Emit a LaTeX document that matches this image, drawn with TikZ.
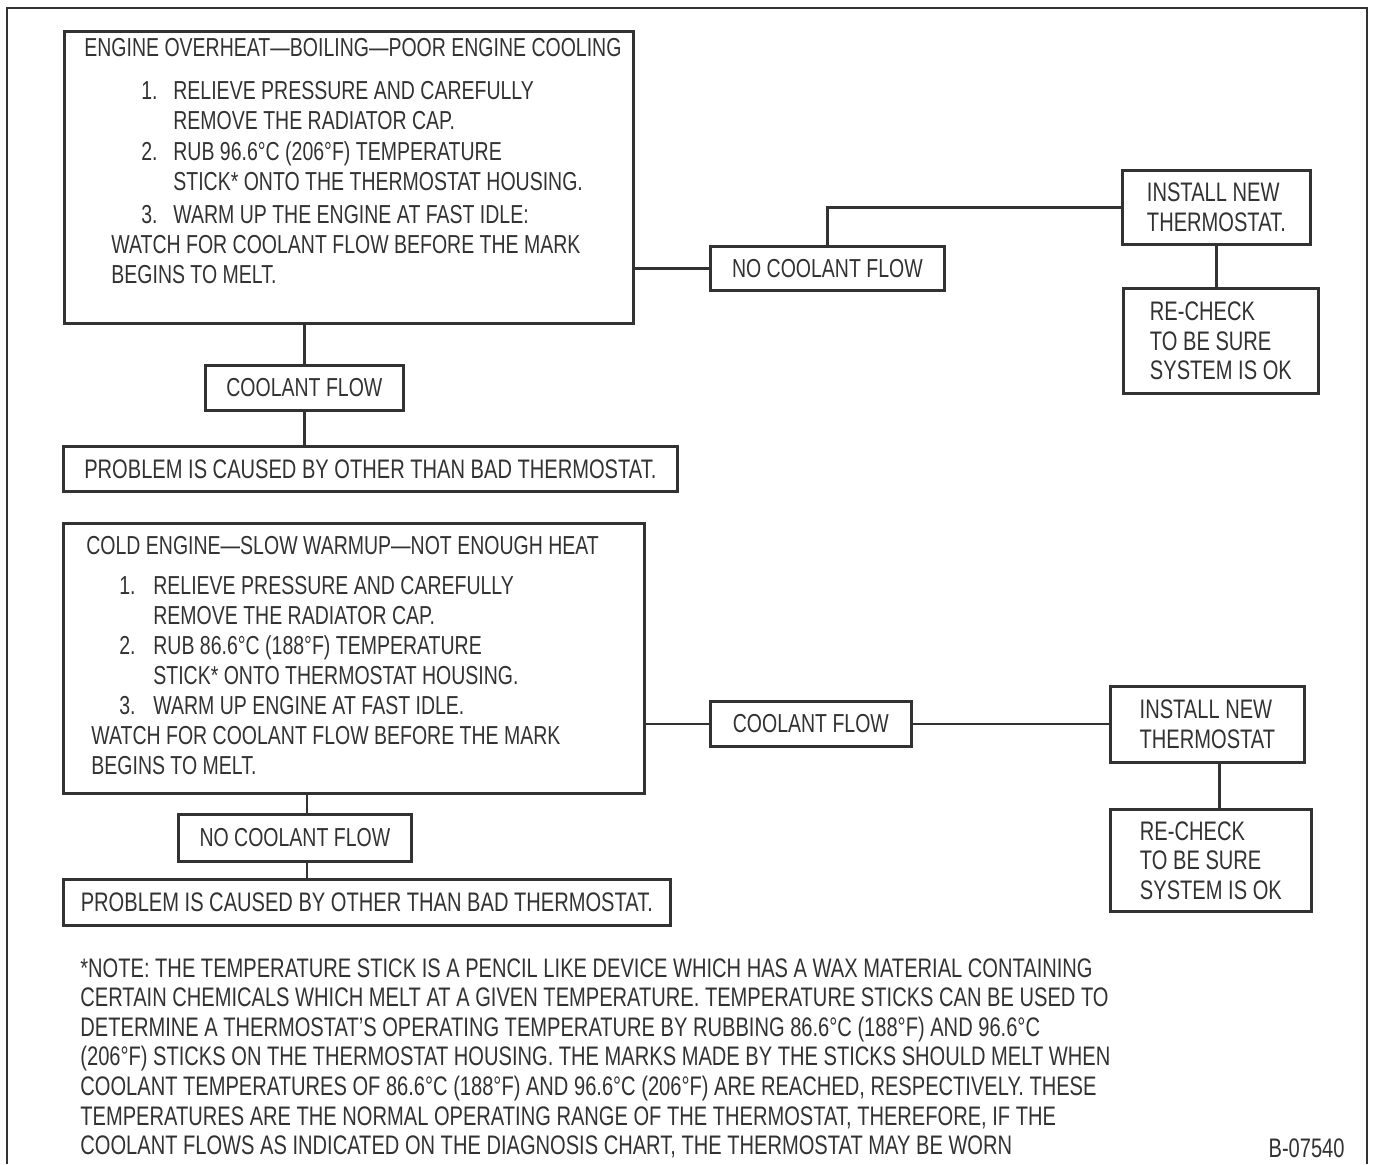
\documentclass[tikz,border=0pt]{standalone}
\usepackage{fontspec}
\setmainfont[FakeStretch=0.75]{Liberation Sans}
\definecolor{inkgray}{RGB}{50,50,50}
\newcommand{\chartstep}[3]{\hspace*{#1}\makebox[#2][l]{#3}}
\begin{document}
\begin{tikzpicture}[x=0.5pt, y=-0.5pt,
    chart/.style={font=\fontsize{13}{15}\selectfont, text=inkgray},
    widechart/.style={font=\fontsize{13.4}{14.8}\selectfont, text=inkgray},
    stepbox/.style={chart, rectangle, draw=inkgray, line width=1.4pt, anchor=north west, inner sep=2pt, align=center},
    checkbox/.style={stepbox, widechart, align=left},
    causebox/.style={stepbox, widechart},
    panel/.style={chart, rectangle, draw=inkgray, line width=1.4pt, anchor=north west, inner ysep=0pt},
    link/.style={draw=inkgray, line width=1.3pt}
]
\useasboundingbox (0,0) rectangle (1373,1164);
\draw[inkgray, line width=1pt] (7,1164) -- (7,8) -- (1367,8) -- (1367,1164);

% hot engine
\node[panel, inner xsep=10pt] (overheat) at (63,30) {\begin{minipage}[t][146pt][t]{264.5pt}\fontsize{13}{15.1}\selectfont
\vspace*{3.5pt}\makebox[\linewidth][l]{ENGINE OVERHEAT—BOILING—POOR ENGINE COOLING}\\[6.5pt]
\chartstep{28.5pt}{16pt}{1.}RELIEVE PRESSURE AND CAREFULLY\\
\hspace*{44.5pt}REMOVE THE RADIATOR CAP.\\
\chartstep{28.5pt}{16pt}{2.}RUB 96.6°C (206°F) TEMPERATURE\\
\hspace*{44.5pt}STICK* ONTO THE THERMOSTAT HOUSING.\\[1.5pt]
\chartstep{28.5pt}{16pt}{3.}WARM UP THE ENGINE AT FAST IDLE:\\
\hspace*{13.5pt}WATCH FOR COOLANT FLOW BEFORE THE MARK\\
\hspace*{13.5pt}BEGINS TO MELT.
\end{minipage}};
\node[stepbox, minimum width=117pt, minimum height=22pt] (noflowA) at (709,245) {NO COOLANT FLOW};
\node[checkbox, minimum width=94pt, minimum height=37pt] (installA) at (1121,169) {INSTALL NEW\\THERMOSTAT.};
\node[checkbox, minimum width=97.5pt, minimum height=52.5pt] (recheckA) at (1122,287) {RE-CHECK\\TO BE SURE\\SYSTEM IS OK};
\node[stepbox, minimum width=99pt, minimum height=22.5pt] (flowA) at (204,364) {COOLANT FLOW};
\node[causebox, minimum width=307pt, minimum height=22.5pt] (causeA) at (62,445) {PROBLEM IS CAUSED BY OTHER THAN BAD THERMOSTAT.};

\draw[link] (overheat.east |- noflowA.west) -- (noflowA.west);
\draw[link] (noflowA.north) |- (installA.west);
\draw[link] (installA.south) -- (installA.south |- recheckA.north);
\draw[link] (flowA.north |- overheat.south) -- (flowA.north);
\draw[link] (flowA.south) -- (flowA.south |- causeA.north);

% cold engine
\node[panel, inner xsep=11.5pt] (cold) at (62,522) {\begin{minipage}[t][135pt][t]{267.5pt}
\vspace*{6.5pt}COLD ENGINE—SLOW WARMUP—NOT ENOUGH HEAT\\[5pt]
\chartstep{16.5pt}{17pt}{1.}RELIEVE PRESSURE AND CAREFULLY\\
\hspace*{33.5pt}REMOVE THE RADIATOR CAP.\\
\chartstep{16.5pt}{17pt}{2.}RUB 86.6°C (188°F) TEMPERATURE\\
\hspace*{33.5pt}STICK* ONTO THERMOSTAT HOUSING.\\
\chartstep{16.5pt}{17pt}{3.}WARM UP ENGINE AT FAST IDLE.\\
\hspace*{2.5pt}WATCH FOR COOLANT FLOW BEFORE THE MARK\\
\hspace*{2.5pt}BEGINS TO MELT.
\end{minipage}};
\node[stepbox, minimum width=100.5pt, minimum height=22.5pt] (flowB) at (709,700) {COOLANT FLOW};
\node[checkbox, minimum width=97pt, minimum height=38pt] (installB) at (1109,685) {INSTALL NEW\\THERMOSTAT};
\node[checkbox, minimum width=100.5pt, minimum height=51pt] (recheckB) at (1109,808) {RE-CHECK\\TO BE SURE\\SYSTEM IS OK};
\node[stepbox, minimum width=116.5pt, minimum height=23.5pt] (noflowB) at (177,813) {NO COOLANT FLOW};
\node[causebox, minimum width=303.5pt, minimum height=23pt] (causeB) at (62,878) {PROBLEM IS CAUSED BY OTHER THAN BAD THERMOSTAT.};

\draw[link] (cold.east |- flowB.west) -- (flowB.west);
\draw[link] (flowB.east) -- (installB.west |- flowB.east);
\draw[link] ([xshift=6pt]installB.south) -- ([xshift=6pt]installB.south |- recheckB.north);
\draw[link] ([xshift=6pt]noflowB.north |- cold.south) -- ([xshift=6pt]noflowB.north);
\draw[link] ([xshift=6pt]noflowB.south) -- ([xshift=6pt]noflowB.south |- causeB.north);

% footnote
\node[widechart, anchor=north west, align=left, inner sep=0pt] (note) at (80,958) {*NOTE: THE TEMPERATURE STICK IS A PENCIL LIKE DEVICE WHICH HAS A WAX MATERIAL CONTAINING\\
CERTAIN CHEMICALS WHICH MELT AT A GIVEN TEMPERATURE. TEMPERATURE STICKS CAN BE USED TO\\
DETERMINE A THERMOSTAT'S OPERATING TEMPERATURE BY RUBBING 86.6°C (188°F) AND 96.6°C\\
(206°F) STICKS ON THE THERMOSTAT HOUSING. THE MARKS MADE BY THE STICKS SHOULD MELT WHEN\\
COOLANT TEMPERATURES OF 86.6°C (188°F) AND 96.6°C (206°F) ARE REACHED, RESPECTIVELY. THESE\\
TEMPERATURES ARE THE NORMAL OPERATING RANGE OF THE THERMOSTAT, THEREFORE, IF THE\\
COOLANT FLOWS AS INDICATED ON THE DIAGNOSIS CHART, THE THERMOSTAT MAY BE WORN};
\node[widechart, anchor=east, inner sep=0pt] (figno) at (1345,1148) {B-07540};
\end{tikzpicture}
\end{document}
